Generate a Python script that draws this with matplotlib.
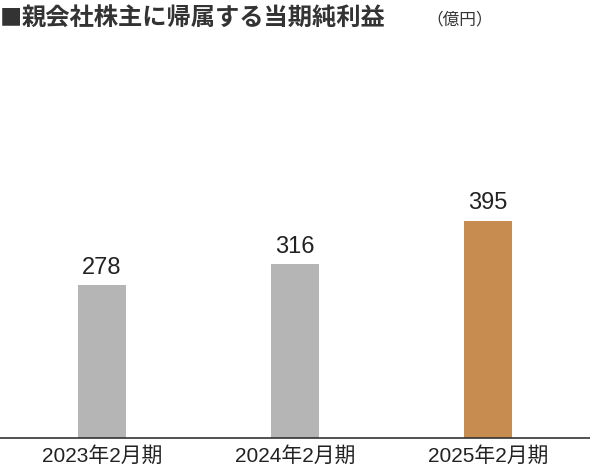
import matplotlib
matplotlib.use("Agg")
import matplotlib.pyplot as plt

plt.rcParams['font.family'] = ['Noto Sans CJK JP', 'DejaVu Sans']
num_font = ['Liberation Sans', 'Noto Sans CJK JP']

categories = ["2023年2月期", "2024年2月期", "2025年2月期"]
values = [278, 316, 395]
colors = ["#b5b5b5", "#b5b5b5", "#c68c50"]

fig = plt.figure(figsize=(5.90, 4.76), dpi=100)
ax = fig.add_axes([0, 38/476, 1, 275/476])
x = list(range(len(categories)))
ax.bar(x, values, width=0.249, color=colors)
ax.set_xlim(-0.528, 2.528)
ax.set_ylim(0, 500)
for xi, v in zip(x, values):
    ax.text(xi, v + 12, f"{v}", ha="center", va="bottom", fontsize=17,
            color="#222222", family=num_font)
ax.set_xticks(x)
ax.set_xticklabels(categories, fontsize=15, color="#222222", family=num_font)
ax.tick_params(axis="x", length=0, pad=6)
ax.set_yticks([])
for s in ["top", "right", "left"]:
    ax.spines[s].set_visible(False)
ax.spines["bottom"].set_color("#333333")
ax.spines["bottom"].set_linewidth(1.2)

fig.text(0.0, 1 - 18/476, "■", fontsize=16, color="#333333", va="center", ha="left")
fig.text(22/590, 1 - 18/476, "親会社株主に帰属する当期純利益", fontsize=17.5, fontweight="bold",
         color="#333333", va="center", ha="left")
fig.text(426/590, 1 - 20/476, "（億円）", fontsize=12, color="#333333", va="center", ha="left")

fig.savefig("out.png", dpi=100)
